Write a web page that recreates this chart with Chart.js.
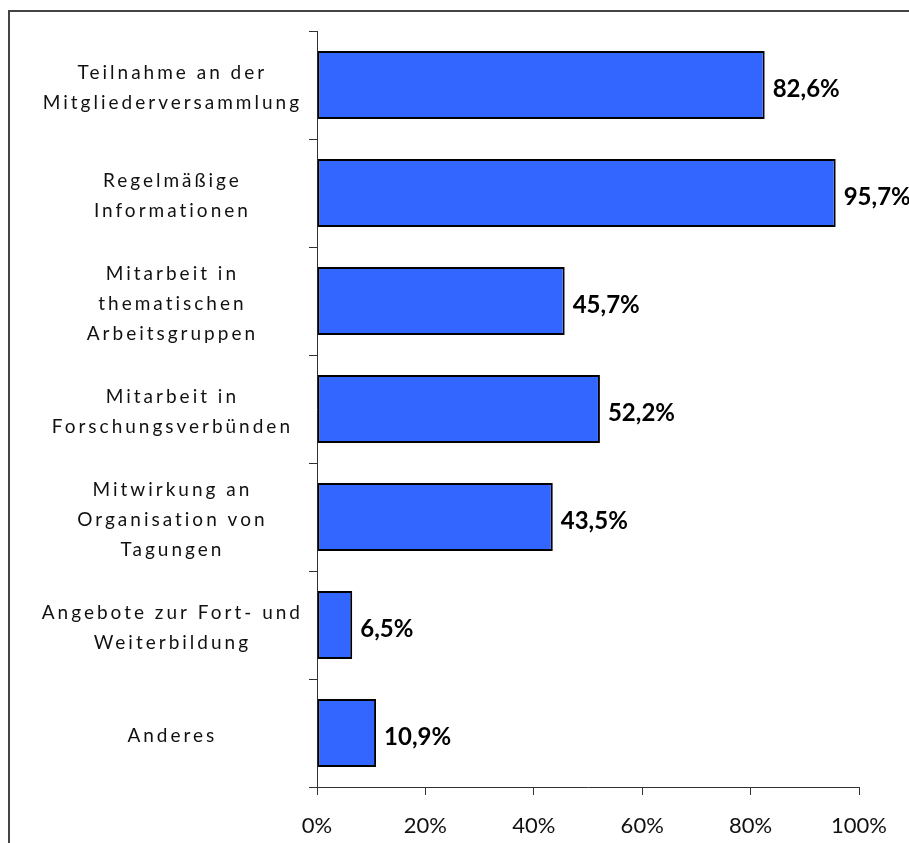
<!DOCTYPE html>
<html lang="de">
<head>
<meta charset="UTF-8">
<title>Angebote</title>
<script src="https://cdn.jsdelivr.net/npm/chart.js"></script>
<style>
  html, body { margin: 0; padding: 0; background: #fff; overflow: hidden; }
  .rahmen { position: absolute; left: 8px; top: 10px; width: 1000px; height: 1000px; border: 2px solid #444; }
  .chart-box { position: absolute; left: 0; top: 0; width: 909px; height: 843px; }
</style>
</head>
<body>
<div class="rahmen"></div>
<div class="chart-box"><canvas id="chart"></canvas></div>
<script>
// Kategorien (mehrzeilig wie im Original)
const kategorien = [
  ['Teilnahme an der', 'Mitgliederversammlung'],
  ['Regelmäßige', 'Informationen'],
  ['Mitarbeit in', 'thematischen', 'Arbeitsgruppen'],
  ['Mitarbeit in', 'Forschungsverbünden'],
  ['Mitwirkung an', 'Organisation von', 'Tagungen'],
  ['Angebote zur Fort- und', 'Weiterbildung'],
  ['Anderes']
];
// Anteile in Prozent
const anteile = [82.6, 95.7, 45.7, 52.2, 43.5, 6.5, 10.9];
// Achsenbeschriftung x
const xTicks = [0, 20, 40, 60, 80, 100];

const fmt = v => v.toFixed(1).replace('.', ',') + '%';

// y-Beschriftungen mit Zeichenabstand (wie Excel)
const sperrung = {
  id: 'sperrung',
  beforeLayout(chart) {
    const s = chart.scales.y;
    if (!s || s._gesperrt) return;
    s._gesperrt = true;
    ['_computeLabelSizes', 'drawLabels'].forEach(m => {
      const f = s[m];
      s[m] = function (...a) {
        const c = this.ctx;
        const alt = c.letterSpacing;
        c.letterSpacing = '3px';
        const r = f.apply(this, a);
        c.letterSpacing = alt;
        return r;
      };
    });
  }
};

// Wertebeschriftung rechts neben den Balken
const werte = {
  id: 'werte',
  afterDatasetsDraw(chart) {
    const ctx = chart.ctx;
    const meta = chart.getDatasetMeta(0);
    ctx.save();
    ctx.letterSpacing = '0px';
    ctx.font = 'bold 24px Lato';
    ctx.fillStyle = '#000';
    ctx.textAlign = 'left';
    ctx.textBaseline = 'middle';
    meta.data.forEach((bar, i) => {
      ctx.fillText(fmt(anteile[i]), bar.x + 8, bar.y + 4);
    });
    ctx.restore();
  }
};

const ctx = document.getElementById('chart').getContext('2d');
new Chart(ctx, {
  type: 'bar',
  data: {
    labels: kategorien,
    datasets: [{
      data: anteile,
      backgroundColor: '#3366ff',
      borderColor: '#000',
      borderWidth: 2,
      borderSkipped: false,
      barPercentage: 0.63,
      categoryPercentage: 1
    }]
  },
  options: {
    indexAxis: 'y',
    responsive: true,
    maintainAspectRatio: false,
    animation: false,
    layout: { padding: { left: 10, top: 31, right: 50, bottom: 0 } },
    plugins: {
      legend: { display: false },
      tooltip: { enabled: false }
    },
    scales: {
      x: {
        min: 0,
        max: 100,
        afterBuildTicks: s => { s.ticks = xTicks.map(v => ({ value: v })); },
        afterFit: s => { s.height = 56; },
        grid: { drawOnChartArea: false, drawTicks: true, tickLength: 8, color: '#333' },
        border: { color: '#333', width: 1 },
        ticks: {
          padding: 18,
          color: '#111',
          font: { family: 'Lato', size: 22 },
          callback: v => v + '%'
        }
      },
      y: {
        afterFit: s => { s.width = 307; },
        grid: { drawOnChartArea: false, drawTicks: true, tickLength: 8, color: '#333', offset: true },
        border: { color: '#333', width: 1 },
        ticks: {
          crossAlign: 'center',
          padding: 6,
          labelOffset: 3,
          color: '#111',
          font: { family: 'Lato', size: 19, lineHeight: 1.58 }
        }
      }
    }
  },
  plugins: [sperrung, werte]
});
</script>
</body>
</html>
